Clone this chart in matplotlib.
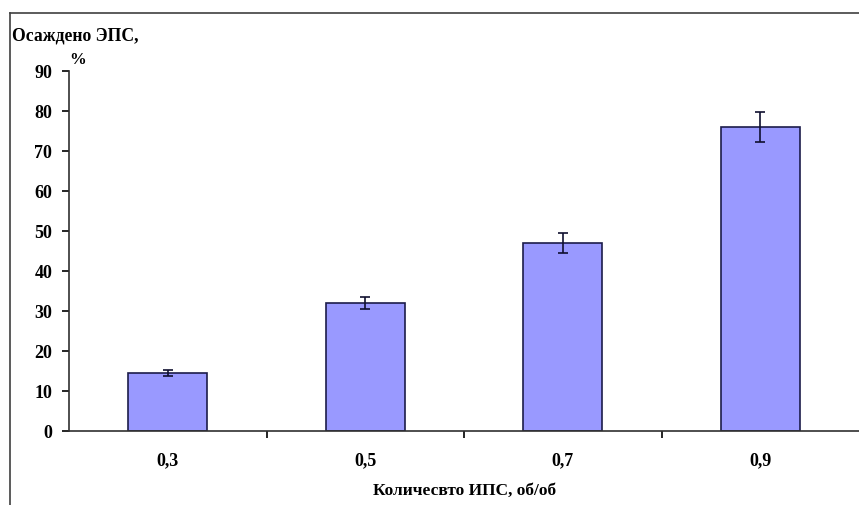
import matplotlib.pyplot as plt
from matplotlib.lines import Line2D
import numpy as np

# данные
categories = ['0,3', '0,5', '0,7', '0,9']
values = [14.5, 32.0, 47.0, 76.0]
errors = [0.7, 1.6, 2.4, 3.8]
yticks = [0, 10, 20, 30, 40, 50, 60, 70, 80, 90]

plt.rcParams['font.family'] = ['Liberation Serif', 'DejaVu Serif']
plt.rcParams['font.weight'] = 'bold'

fig = plt.figure(figsize=(8.59, 5.05), dpi=100)
ax = fig.add_axes([0.0803, 0.1465, 0.92, 0.7129])

x = np.arange(len(categories))
ax.bar(x, values, width=0.4, color='#9999FF', edgecolor='#1c1c4a', linewidth=1.2,
       yerr=errors, error_kw=dict(ecolor='#101030', elinewidth=1.2, capsize=3.3, capthick=1.2))

ax.set_xlim(-0.5, 3.5)
ax.set_ylim(0, 90)
ax.set_yticks(yticks)
ax.set_yticklabels([str(t) for t in yticks], fontsize=13, fontweight='bold')
ax.set_xticks(x)
ax.set_xticklabels(categories, fontsize=13, fontweight='bold')
ax.tick_params(axis='x', which='major', length=0, pad=15)
ax.set_xticks([0.5, 1.5, 2.5], minor=True)
ax.tick_params(axis='x', which='minor', length=5, width=1.2, direction='out')
ax.tick_params(axis='y', length=5, width=1.2, direction='out', pad=7)

for s in ['top', 'right']:
    ax.spines[s].set_visible(False)
for s in ['left', 'bottom']:
    ax.spines[s].set_color('#303030')
    ax.spines[s].set_linewidth(1.2)

ax.set_xlabel('Количесвто ИПС, об/об', fontsize=12.5, fontweight='bold', labelpad=10)

fig.text(12 / 859, 1 - 36 / 505, 'Осаждено ЭПС,', fontsize=12.7, fontweight='bold', va='center', ha='left')
fig.text(78 / 859, 1 - 60 / 505, '%', fontsize=12, fontweight='bold', va='center', ha='center')

# рамка области диаграммы
fig.add_artist(Line2D([10 / 859, 10 / 859], [0, 1 - 13 / 505], transform=fig.transFigure, color='#404040', lw=1.2))
fig.add_artist(Line2D([10 / 859, 1], [1 - 13 / 505, 1 - 13 / 505], transform=fig.transFigure, color='#404040', lw=1.2))

fig.savefig('out.png', dpi=100)
